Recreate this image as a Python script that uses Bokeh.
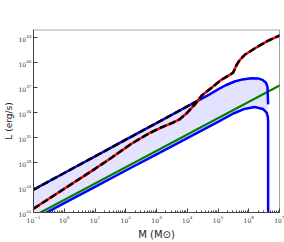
import numpy as np
from bokeh.plotting import figure
from bokeh.models import FixedTicker, Span
from bokeh.embed import file_html
from bokeh.resources import INLINE

# ---- data (log10 values) ----
upper_log_m = [-1.0, 0.0, 1.0, 2.0, 3.0, 4.0, 4.35, 4.7, 5.0, 5.25, 5.54, 5.8, 6.08, 6.3, 6.45, 6.56, 6.61, 6.63]
upper_log_l = [24.75, 26.75, 28.75, 30.75, 32.75, 34.75, 35.45, 36.15, 36.8, 37.3, 37.75, 38.0, 38.15, 38.12, 37.95, 37.6, 37.1, 35.0]

lower_log_m = [-1.0, 0.0, 1.0, 2.0, 3.0, 4.0, 5.0, 5.5, 5.86, 6.19, 6.46, 6.58, 6.62, 6.63, 6.63]
lower_log_l = [21.15, 23.12, 25.08, 27.05, 29.0, 30.95, 32.9, 33.9, 34.45, 34.68, 34.45, 34.0, 33.5, 33.0, 21.0]

red_log_m = [-1.0, 0.0, 1.0, 1.5, 2.2, 2.75, 3.2, 3.5, 3.75, 4.0, 4.25, 4.47, 4.79, 5.11, 5.38, 5.49, 5.6, 5.7, 5.86, 6.19, 6.62, 7.1]
red_log_l = [22.45, 24.85, 27.25, 28.5, 30.3, 31.5, 32.3, 32.75, 33.2, 34.0, 35.0, 36.05, 37.0, 37.95, 38.55, 38.8, 39.7, 40.3, 40.93, 41.72, 42.63, 43.45]

green_log_m = [-1.0, 7.1]
green_log_l = [21.55, 37.45]

merge_log_m = 4.35

x_ticks_exp = list(range(-1, 8))
y_ticks_exp = list(range(22, 44, 3))

# ---- figure ----
p = figure(width=284, height=242, x_axis_type="log", y_axis_type="log",
           x_range=(1e-1, 1e7), y_range=(1e22, 1e44),
           output_backend="svg", toolbar_location=None,
           min_border_left=30, min_border_right=5, min_border_top=29, min_border_bottom=27)
p.xgrid.visible = False
p.ygrid.visible = False
p.outline_line_color = None
p.background_fill_color = "white"
p.border_fill_color = "white"

um = 10 ** np.array(upper_log_m); ul = 10 ** np.array(upper_log_l)
lm = 10 ** np.array(lower_log_m); ll = 10 ** np.array(lower_log_l)
rm = 10 ** np.array(red_log_m); rl = 10 ** np.array(red_log_l)
gm = 10 ** np.array(green_log_m); gl = 10 ** np.array(green_log_l)

# shaded region between the blue curves
fx = np.concatenate([um, lm[:-1][::-1]])
fy = np.concatenate([ul, ll[:-1][::-1]])
p.patch(fx, fy, fill_color="#0000ff", fill_alpha=0.11, line_color=None)

p.line(gm, gl, line_color="#008000", line_width=2.2)
p.line(lm, ll, line_color="#0000ff", line_width=2.5)
p.line(um, ul, line_color="#0000ff", line_width=2.5)
mask = np.array(upper_log_m) <= merge_log_m
p.line(um[mask], ul[mask], line_color="black", line_width=2.5, line_dash="7 3")
p.line(rm, rl, line_color="#ff0000", line_width=2.5)
p.line(rm, rl, line_color="black", line_width=2.5, line_dash="7 3")

# axes
p.xaxis.ticker = FixedTicker(ticks=[10.0 ** e for e in x_ticks_exp],
                             minor_ticks=[k * 10.0 ** e for e in x_ticks_exp[:-1] for k in range(2, 10)])
p.yaxis.ticker = FixedTicker(ticks=[10.0 ** e for e in y_ticks_exp], minor_ticks=[])
for ax in (p.xaxis[0], p.yaxis[0]):
    ax.major_tick_in = 4
    ax.major_tick_out = 0
    ax.minor_tick_in = 2
    ax.minor_tick_out = 0
    ax.axis_line_color = "#444444"
    ax.major_tick_line_color = "#444444"
    ax.minor_tick_line_color = "#444444"
    ax.major_label_text_font = "DejaVu Serif"
    ax.major_label_text_font_size = "6px"
    ax.major_label_text_color = "#333333"
    ax.major_label_standoff = 2
    ax.axis_label_text_font = "DejaVu Sans"
    ax.axis_label_text_font_style = "normal"
    ax.axis_label_text_color = "#222222"
p.xaxis.axis_label = "M (M⊙)"
p.xaxis.axis_label_text_font_size = "10px"
p.xaxis.axis_label_standoff = 3
p.yaxis.axis_label = "L (erg/s)"
p.yaxis.axis_label_text_font_size = "9px"
p.yaxis.axis_label_standoff = 2

p.add_layout(Span(location=1e44, dimension="width", line_color="#aaaaaa", line_width=2))
p.add_layout(Span(location=1e7, dimension="height", line_color="#444444", line_width=1))

open("out.html", "w").write(file_html(p, INLINE))
